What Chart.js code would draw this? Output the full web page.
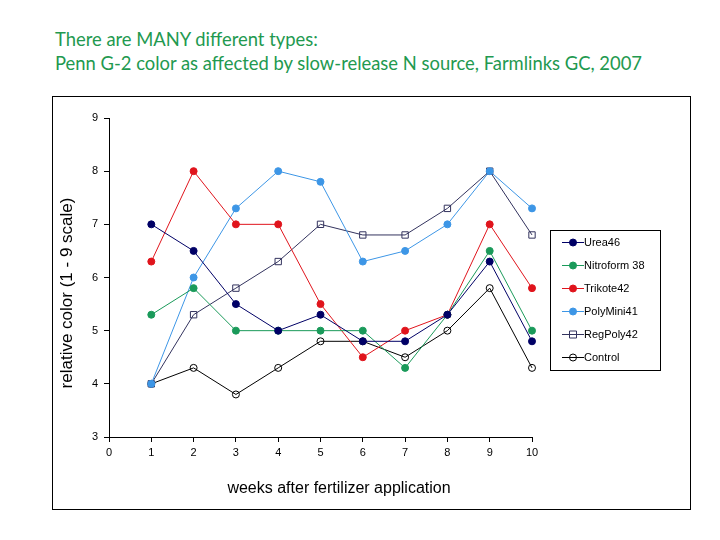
<!DOCTYPE html>
<html>
<head>
<meta charset="utf-8">
<script src="https://cdn.jsdelivr.net/npm/chart.js@4"></script>
<style>
  html, body { margin: 0; padding: 0; background: #fff; }
  #wrap { position: relative; width: 720px; height: 540px; }
  #title { position: absolute; left: 55px; top: 27px; font-family: Lato, sans-serif; font-size: 18.4px;
           line-height: 24px; color: #22994f; white-space: nowrap; }
  canvas { position: absolute; left: 0; top: 0; }
</style>
</head>
<body>
<div id="wrap">
  <div id="title">There are MANY different types:<br>Penn G-2 color as affected by slow-release N source, Farmlinks GC, 2007</div>
  <canvas id="myChart" width="720" height="540"></canvas>
</div>
<script>
let weeks = [1, 2, 3, 4, 5, 6, 7, 8, 9, 10];
let labels = ['Urea46', 'Nitroform 38', 'Trikote42', 'PolyMini41', 'RegPoly42', 'Control'];
let urea46 = [7.0, 6.5, 5.5, 5.0, 5.3, 4.8, 4.8, 5.3, 6.3, 4.8];
let nitroform38 = [5.3, 5.8, 5.0, 5.0, 5.0, 5.0, 4.3, 5.3, 6.5, 5.0];
let trikote42 = [6.3, 8.0, 7.0, 7.0, 5.5, 4.5, 5.0, 5.3, 7.0, 5.8];
let polyMini41 = [4.0, 6.0, 7.3, 8.0, 7.8, 6.3, 6.5, 7.0, 8.0, 7.3];
let regPoly42 = [4.0, 5.3, 5.8, 6.3, 7.0, 6.8, 6.8, 7.3, 8.0, 6.8];
let control = [4.0, 4.3, 3.8, 4.3, 4.8, 4.8, 4.5, 5.0, 5.8, 4.3];
let xTitle = 'weeks after fertilizer application';
let yTitle = 'relative color (1 - 9 scale)';

let colorHex = ['#000066', '#1a9a5a', '#e0141c', '#3d96e6', '#33335e', '#000000'];
let fills = ['#000066', '#1a9a5a', '#e0141c', '#3d96e6', 'rgba(0,0,0,0)', 'rgba(0,0,0,0)'];
let shapes = ['circle', 'circle', 'circle', 'circle', 'rect', 'circle'];
let series = [urea46, nitroform38, trikote42, polyMini41, regPoly42, control];

let datasets = series.map((vals, i) => ({
    label: labels[i],
    data: vals.map((v, j) => ({ x: weeks[j], y: v })),
    borderColor: colorHex[i],
    backgroundColor: fills[i],
    pointBorderColor: colorHex[i],
    pointBackgroundColor: fills[i],
    pointStyle: shapes[i],
    pointRadius: shapes[i] === 'rect' ? 4.5 : 3.5,
    pointBorderWidth: 1,
    borderWidth: 1,
    tension: 0,
    clip: false
}));

// outer frame, axis titles and the legend box
let framePlugin = {
    id: 'frame',
    beforeDraw(chart) {
        let c = chart.ctx;
        c.save();
        c.strokeStyle = '#000';
        c.lineWidth = 1;
        c.strokeRect(52.5, 96.5, 638, 413);
        c.fillStyle = '#000';
        c.textAlign = 'center';
        c.textBaseline = 'middle';
        c.font = '16px "Liberation Sans", Arial, sans-serif';
        c.fillText(xTitle, 339, 489);
        c.font = '17px "Liberation Sans", Arial, sans-serif';
        c.translate(67, 293);
        c.rotate(-Math.PI / 2);
        c.fillText(yTitle, 0, 0);
        c.restore();
    },
    afterDraw(chart) {
        let c = chart.ctx;
        c.save();
        c.strokeStyle = '#000';
        c.lineWidth = 1;
        c.strokeRect(550.5, 230.5, 110, 140);
        c.font = '11px "Liberation Sans", Arial, sans-serif';
        c.textBaseline = 'middle';
        chart.data.datasets.forEach((ds, i) => {
            let y = 242 + i * 23 + 0.5;
            c.strokeStyle = ds.borderColor;
            c.beginPath();
            c.moveTo(562, y);
            c.lineTo(584, y);
            c.stroke();
            c.fillStyle = ds.pointBackgroundColor;
            c.beginPath();
            if (ds.pointStyle === 'rect') {
                c.rect(569.5, y - 3.5, 7, 7);
            } else {
                c.arc(573, y, 3.5, 0, Math.PI * 2);
            }
            c.fill();
            c.stroke();
            c.fillStyle = '#000';
            c.fillText(ds.label, 584, y);
        });
        c.restore();
    }
};

let ctx = document.getElementById('myChart').getContext('2d');
let myChart = new Chart(ctx, {
    type: 'line',
    data: { datasets: datasets },
    options: {
        responsive: false,
        animation: false,
        layout: { padding: { left: 52, right: 188, top: 118, bottom: 30 } },
        plugins: { legend: { display: false }, tooltip: { enabled: false } },
        scales: {
            x: {
                type: 'linear',
                min: 0,
                max: 10,
                ticks: { stepSize: 1, color: '#000', padding: 4, font: { family: '"Liberation Sans", Arial', size: 11 } },
                grid: { drawOnChartArea: false, drawTicks: true, tickLength: 5, color: '#000' },
                border: { color: '#000' },
                afterFit: (s) => { s.height = 73; }
            },
            y: {
                min: 3,
                max: 9,
                ticks: { stepSize: 1, color: '#000', padding: 6, font: { family: '"Liberation Sans", Arial', size: 11 } },
                grid: { drawOnChartArea: false, drawTicks: true, tickLength: 5, color: '#000' },
                border: { color: '#000' },
                afterFit: (s) => { s.width = 57; }
            }
        }
    },
    plugins: [framePlugin]
});
</script>
</body>
</html>
